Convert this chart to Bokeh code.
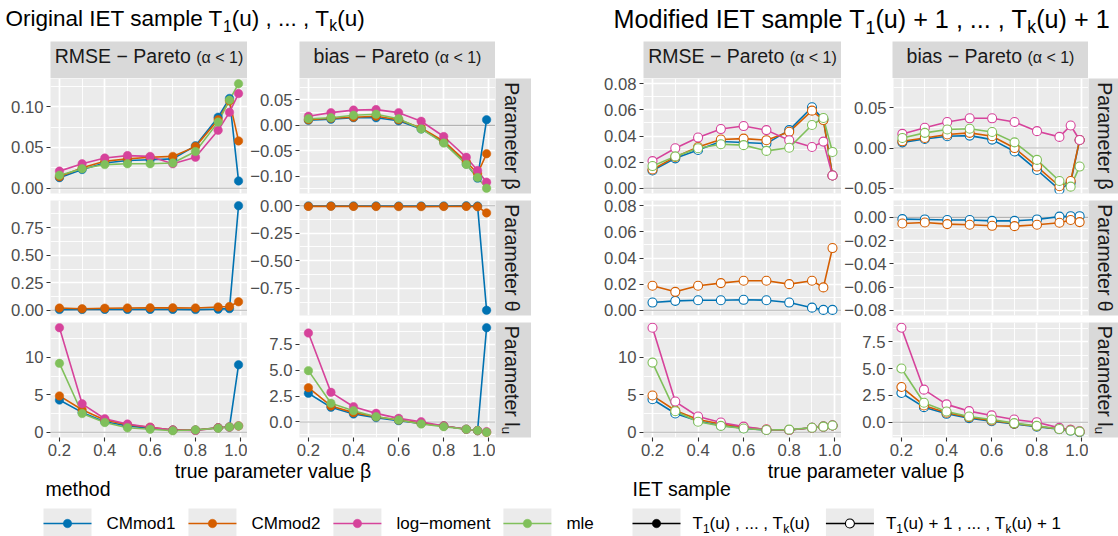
import math
from bokeh.plotting import figure
from bokeh.layouts import row, column
from bokeh.models import (Range1d, FixedTicker, LinearAxis, Grid, Span, Label,
                          CustomJSTickFormatter, Spacer)
from bokeh.embed import file_html
from bokeh.resources import INLINE

# ---------------------------------------------------------------- data
beta = [0.2, 0.3, 0.4, 0.5, 0.6, 0.7, 0.8, 0.9, 0.95, 0.99]
methods = ["CMmod1", "CMmod2", "log\u2212moment", "mle"]
method_colors = ["#0072B2", "#D55E00", "#D6439B", "#80C05B"]

# original IET sample T1(u), ..., Tk(u)
orig_rmse_beta_cm1 = [0.013, 0.023, 0.031, 0.034, 0.035, 0.036, 0.052, 0.087, 0.110, 0.009]
orig_rmse_beta_cm2 = [0.014, 0.025, 0.033, 0.036, 0.038, 0.039, 0.051, 0.084, 0.107, 0.058]
orig_rmse_beta_lm = [0.021, 0.030, 0.037, 0.040, 0.039, 0.030, 0.038, 0.071, 0.093, 0.116]
orig_rmse_beta_mle = [0.016, 0.024, 0.029, 0.030, 0.030, 0.031, 0.045, 0.081, 0.108, 0.128]

orig_bias_beta_cm1 = [0.010, 0.012, 0.015, 0.015, 0.009, -0.007, -0.033, -0.076, -0.104, 0.011]
orig_bias_beta_cm2 = [0.011, 0.014, 0.016, 0.018, 0.011, -0.005, -0.031, -0.072, -0.095, -0.056]
orig_bias_beta_lm = [0.018, 0.025, 0.030, 0.031, 0.025, 0.008, -0.022, -0.063, -0.089, -0.112]
orig_bias_beta_mle = [0.013, 0.015, 0.020, 0.022, 0.013, -0.007, -0.035, -0.077, -0.103, -0.124]

orig_rmse_theta_cm1 = [0.006, 0.007, 0.008, 0.008, 0.008, 0.008, 0.006, 0.010, 0.015, 0.950]
orig_rmse_theta_cm2 = [0.020, 0.014, 0.019, 0.021, 0.022, 0.022, 0.021, 0.030, 0.034, 0.077]

orig_bias_theta_cm1 = [-0.002, -0.002, -0.002, -0.002, -0.003, -0.003, -0.002, -0.001, -0.003, -0.950]
orig_bias_theta_cm2 = [-0.006, -0.005, -0.006, -0.007, -0.008, -0.008, -0.007, -0.006, -0.009, -0.065]

orig_rmse_lu_cm1 = [4.30, 2.65, 1.40, 0.85, 0.55, 0.30, 0.30, 0.60, 0.70, 9.00]
orig_rmse_lu_cm2 = [4.85, 3.00, 1.65, 1.00, 0.67, 0.30, 0.30, 0.60, 0.70, 0.85]
orig_rmse_lu_lm = [13.95, 3.80, 1.80, 1.10, 0.67, 0.30, 0.22, 0.60, 0.70, 0.85]
orig_rmse_lu_mle = [9.20, 2.50, 1.30, 0.60, 0.40, 0.20, 0.30, 0.55, 0.70, 0.85]

orig_bias_lu_cm1 = [2.76, 1.41, 0.77, 0.42, 0.13, -0.13, -0.38, -0.70, -0.83, 9.07]
orig_bias_lu_cm2 = [3.30, 1.54, 0.90, 0.51, 0.19, -0.13, -0.38, -0.70, -0.83, -0.99]
orig_bias_lu_lm = [8.56, 2.85, 1.47, 0.83, 0.35, 0.03, -0.38, -0.70, -0.83, -0.93]
orig_bias_lu_mle = [4.94, 1.80, 1.09, 0.51, 0.19, -0.19, -0.45, -0.70, -0.83, -0.99]

# modified IET sample T1(u) + 1, ..., Tk(u) + 1
mod_rmse_beta_cm1 = [0.0136, 0.0229, 0.0293, 0.0358, 0.0350, 0.0342, 0.0445, 0.0620, 0.0527, 0.0098]
mod_rmse_beta_cm2 = [0.0144, 0.0240, 0.0316, 0.0373, 0.0380, 0.0368, 0.0432, 0.0594, 0.0522, 0.0098]
mod_rmse_beta_lm = [0.0208, 0.0306, 0.0388, 0.0453, 0.0476, 0.0445, 0.0368, 0.0316, 0.0357, 0.0098]
mod_rmse_beta_mle = [0.0170, 0.0244, 0.0306, 0.0337, 0.0330, 0.0286, 0.0310, 0.0484, 0.0538, 0.0278]

mod_bias_beta_cm1 = [0.0071, 0.0113, 0.0147, 0.0155, 0.0105, -0.0042, -0.0273, -0.0517, -0.0430, 0.0100]
mod_bias_beta_cm2 = [0.0084, 0.0126, 0.0168, 0.0189, 0.0147, 0.0000, -0.0230, -0.0475, -0.0410, 0.0100]
mod_bias_beta_lm = [0.0176, 0.0252, 0.0324, 0.0370, 0.0370, 0.0324, 0.0210, 0.0139, 0.0280, 0.0100]
mod_bias_beta_mle = [0.0126, 0.0189, 0.0231, 0.0240, 0.0200, 0.0071, -0.0147, -0.0410, -0.0480, -0.0230]

mod_rmse_theta_cm1 = [0.0059, 0.0072, 0.0077, 0.0077, 0.0080, 0.0077, 0.0059, 0.0020, 0.0003, 0.0003]
mod_rmse_theta_cm2 = [0.0188, 0.0141, 0.0188, 0.0208, 0.0226, 0.0226, 0.0200, 0.0226, 0.0175, 0.0476]

mod_bias_theta_cm1 = [-0.0015, -0.0018, -0.0023, -0.0023, -0.0030, -0.0030, -0.0018, 0.0006, 0.0010, 0.0010]
mod_bias_theta_cm2 = [-0.0053, -0.0044, -0.0058, -0.0064, -0.0073, -0.0076, -0.0064, -0.0047, -0.0023, -0.0041]

mod_rmse_lu_cm1 = [4.40, 2.50, 1.50, 0.90, 0.55, 0.30, 0.30, 0.60, 0.75, 0.90]
mod_rmse_lu_cm2 = [4.90, 2.90, 1.70, 1.10, 0.70, 0.35, 0.30, 0.60, 0.75, 0.90]
mod_rmse_lu_lm = [13.95, 4.10, 2.10, 1.30, 0.75, 0.35, 0.30, 0.60, 0.75, 0.90]
mod_rmse_lu_mle = [9.30, 2.80, 1.40, 0.85, 0.50, 0.30, 0.35, 0.60, 0.75, 0.90]

mod_bias_lu_cm1 = [2.72, 1.40, 0.78, 0.38, 0.09, -0.16, -0.41, -0.66, -0.78, -0.94]
mod_bias_lu_cm2 = [3.28, 1.56, 0.88, 0.47, 0.16, -0.13, -0.38, -0.63, -0.72, -0.88]
mod_bias_lu_lm = [8.80, 3.03, 1.66, 1.03, 0.63, 0.25, 0.00, -0.53, -0.72, -0.84]
mod_bias_lu_mle = [5.00, 1.81, 1.00, 0.53, 0.25, -0.09, -0.34, -0.63, -0.78, -0.88]

column_labels = [("RMSE \u2212 Pareto ", "(\u03b1 < 1)"), ("bias \u2212 Pareto ", "(\u03b1 < 1)")]
row_labels = [[("Parameter \u03b2", 0)], [("Parameter \u03b8", 0)],
              [("Parameter l", 0), ("u", 1)]]
x_title = "true parameter value \u03b2"
sample_labels = [
    [("T", 0), ("1", 1), ("(u) , ... , T", 0), ("k", 1), ("(u)", 0)],
    [("T", 0), ("1", 1), ("(u) + 1 , ... , T", 0), ("k", 1), ("(u) + 1", 0)],
]
titles = [
    [("Original IET sample T", 0), ("1", 1), ("(u) , ... , T", 0), ("k", 1), ("(u)", 0)],
    [("Modified IET sample T", 0), ("1", 1), ("(u) + 1 , ... , T", 0), ("k", 1), ("(u) + 1", 0)],
]


def by_method(*series):
    return dict(zip(methods, series))


orig_grid = [
    [(by_method(orig_rmse_beta_cm1, orig_rmse_beta_cm2, orig_rmse_beta_lm, orig_rmse_beta_mle), None, 0.05, 2),
     (by_method(orig_bias_beta_cm1, orig_bias_beta_cm2, orig_bias_beta_lm, orig_bias_beta_mle), (-0.124, 0.082), 0.05, 2)],
    [(by_method(orig_rmse_theta_cm1, orig_rmse_theta_cm2), None, 0.25, 2),
     (by_method(orig_bias_theta_cm1, orig_bias_theta_cm2), None, 0.25, 2)],
    [(by_method(orig_rmse_lu_cm1, orig_rmse_lu_cm2, orig_rmse_lu_lm, orig_rmse_lu_mle), None, 5, 0),
     (by_method(orig_bias_lu_cm1, orig_bias_lu_cm2, orig_bias_lu_lm, orig_bias_lu_mle), None, 2.5, 1)],
]
mod_grid = [
    [(by_method(mod_rmse_beta_cm1, mod_rmse_beta_cm2, mod_rmse_beta_lm, mod_rmse_beta_mle), (0.0, 0.08), 0.02, 2),
     (by_method(mod_bias_beta_cm1, mod_bias_beta_cm2, mod_bias_beta_lm, mod_bias_beta_mle), (-0.05, 0.08), 0.05, 2)],
    [(by_method(mod_rmse_theta_cm1, mod_rmse_theta_cm2), (0.0, 0.08), 0.02, 2),
     (by_method(mod_bias_theta_cm1, mod_bias_theta_cm2), (-0.08, 0.01), 0.02, 2)],
    [(by_method(mod_rmse_lu_cm1, mod_rmse_lu_cm2, mod_rmse_lu_lm, mod_rmse_lu_mle), None, 5, 0),
     (by_method(mod_bias_lu_cm1, mod_bias_lu_cm2, mod_bias_lu_lm, mod_bias_lu_mle), None, 2.5, 1)],
]

# ---------------------------------------------------------------- style
FONT = "Liberation Sans"
PANEL_BG = "#EBEBEB"
STRIP_BG = "#D9D9D9"
KEY_BG = "#EBEBEB"
TITLE_SIZES = [22.5, 25.2]
STRIP_SIZE = 19.5
STRIP_SMALL = 16
AXIS_TITLE_SIZE = 19.5
TICK_SIZE = 16.7
LEGEND_SIZE = 17
# labels drawn with an alphabetic baseline land about this many em below
# their anchor, so anchors are raised by the same amount
BASELINE_LIFT = 0.37

PAGE_W = 1118
TITLE_H = 41
STRIP_H = 37
FRAME_H = 115
ROW_GAP = 7
XAXIS_H = 26
# every panel row carries a transparent margin band above and below its frame
# and overlaps its neighbours by that band, so edge tick labels have room
BAND = 7
# the footer slides up over the blank lower edge of the tick-label band
FOOT_OVERLAP = 12
FOOT_TOP = TITLE_H + STRIP_H + 3 * FRAME_H + 2 * ROW_GAP + XAXIS_H - FOOT_OVERLAP
FOOT_H = 536 - FOOT_TOP

# (frame width, left border) per panel column, right strip width
group_layout = [
    dict(cols=[(197, 50), (196, 52)], strip_w=36, hollow=False, grid=orig_grid),
    dict(cols=[(198, 112), (196, 51)], strip_w=30, hollow=True, grid=mod_grid),
]

# Arial / Liberation Sans advance widths (1/1000 em)
ADV = {
    " ": 278, "(": 333, ")": 333, ",": 278, ".": 278, "+": 584, "<": 584, "\u2212": 584, "-": 333,
    "0": 556, "1": 556, "2": 556, "3": 556, "4": 556, "5": 556, "6": 556, "7": 556, "8": 556, "9": 556,
    "a": 556, "b": 556, "c": 500, "d": 556, "e": 556, "f": 278, "g": 556, "h": 556, "i": 222,
    "j": 222, "k": 500, "l": 222, "m": 833, "n": 556, "o": 556, "p": 556, "q": 556, "r": 333,
    "s": 500, "t": 278, "u": 556, "v": 500, "w": 722, "x": 500, "y": 500, "z": 500,
    "C": 722, "E": 667, "I": 278, "M": 833, "O": 778, "P": 667, "R": 722, "S": 667, "T": 611,
    "\u03b1": 578, "\u03b2": 575, "\u03b8": 556,
}


def text_width(s, size):
    return sum(ADV.get(c, 556) for c in s) * size / 1000.0


def rich_text(p, along, cross, parts, color, center=False, vertical=False):
    """Place text made of (string, size, shift) pieces; shift lowers a piece."""
    total = sum(text_width(t, s) for t, s, _ in parts)
    pos = along - total / 2 if center else along
    for t, s, shift in parts:
        kw = dict(text=t, text_font=FONT, text_font_size=f"{s}px",
                  text_color=color, text_align="left", text_baseline="alphabetic")
        drop = shift - BASELINE_LIFT * s
        if vertical:
            p.add_layout(Label(x=cross - drop, y=pos, angle=-math.pi / 2, **kw))
        else:
            p.add_layout(Label(x=pos, y=cross + drop, **kw))
        pos += text_width(t, s)


def sub_parts(pieces, size, sub_ratio, sub_shift):
    return [(t, size * sub_ratio if s else size, sub_shift if s else 0) for t, s in pieces]


def plain_fig(width, height, x_range, y_range, left=0, top=0, bottom=0, bg="white",
              clear_border=False):
    p = figure(width=width, height=height, x_range=x_range, y_range=y_range,
               title=None, min_border_left=left, min_border_right=0, min_border_top=top,
               min_border_bottom=bottom, background_fill_color=bg,
               border_fill_color="white", outline_line_color=None,
               x_axis_location=None, y_axis_location=None,
               toolbar_location=None, tools="", output_backend="svg")
    if clear_border:
        p.border_fill_alpha = 0
    # drop the default grids; panels add their own below
    p.center = []
    return p


def ticks_in(lo, hi, step):
    k0 = math.ceil(lo / step - 1e-9)
    k1 = math.floor(hi / step + 1e-9)
    return [round(k * step, 10) for k in range(k0, k1 + 1)]


def make_axis(ticks, digits, standoff):
    return LinearAxis(
        ticker=FixedTicker(ticks=ticks),
        formatter=CustomJSTickFormatter(args=dict(d=digits),
                                        code="return tick.toFixed(d).replace('-', '\u2212');"),
        axis_line_color=None, major_tick_line_color="#333333", major_tick_line_width=1.1,
        major_tick_in=0, major_tick_out=4, minor_tick_line_color=None,
        major_label_text_font=FONT, major_label_text_font_size=f"{TICK_SIZE}px",
        major_label_text_color="#4D4D4D", major_label_standoff=standoff)


def make_panel(series, limits, step, digits, frame_w, left, top, bottom, x_axis, hollow):
    vals = [v for ys in series.values() for v in ys]
    lo, hi = limits if limits else (min(vals + [0.0]), max(vals + [0.0]))
    pad = 0.05 * (hi - lo)
    y0, y1 = lo - pad, hi + pad
    xpad = 0.05 * (max(beta) - min(beta))
    x0, x1 = min(beta) - xpad, max(beta) + xpad
    p = plain_fig(left + frame_w, top + FRAME_H + bottom, Range1d(x0, x1), Range1d(y0, y1),
                  left=left, top=top, bottom=bottom, bg=PANEL_BG, clear_border=True)

    x_major = ticks_in(x0, x1, 0.2)
    x_minor = [t for t in ticks_in(x0, x1, 0.1) if t not in x_major]
    y_major = ticks_in(y0, y1, step)
    y_minor = [t for t in ticks_in(y0, y1, step / 2) if t not in y_major]
    p.add_layout(Grid(dimension=0, ticker=FixedTicker(ticks=x_major, minor_ticks=x_minor),
                      grid_line_color="white", grid_line_width=1.7,
                      minor_grid_line_color="white", minor_grid_line_width=0.9))
    p.add_layout(Grid(dimension=1, ticker=FixedTicker(ticks=y_major, minor_ticks=y_minor),
                      grid_line_color="white", grid_line_width=1.7,
                      minor_grid_line_color="white", minor_grid_line_width=0.9))
    p.add_layout(Span(location=0, dimension="width", line_color="#B3B3B3",
                      line_width=1.1, level="underlay"))

    p.add_layout(make_axis(y_major, digits, 3), "left")
    if x_axis:
        p.add_layout(make_axis(x_major, 1, 2), "below")

    colors = dict(zip(methods, method_colors))
    for m, ys in series.items():
        p.line(beta, ys, line_color=colors[m], line_width=1.6)
    for m, ys in series.items():
        p.scatter(beta, ys, marker="circle", size=9 if hollow else 8.5,
                  fill_color="white" if hollow else colors[m],
                  line_color=colors[m], line_width=1.1 if hollow else 0.5)
    return p


def top_strip(label, frame_w, left):
    p = plain_fig(left + frame_w, STRIP_H, Range1d(0, frame_w), Range1d(STRIP_H, 0),
                  left=left, bg=STRIP_BG)
    parts = [(label[0], STRIP_SIZE, 0), (label[1], STRIP_SMALL, 0)]
    rich_text(p, frame_w / 2, 21.7, parts, "#1A1A1A", center=True)
    return p


def side_strip(label, width, top, bottom):
    p = plain_fig(width, top + FRAME_H + bottom, Range1d(0, width), Range1d(FRAME_H, 0),
                  top=top, bottom=bottom, bg=STRIP_BG, clear_border=True)
    parts = sub_parts(label, STRIP_SIZE, 0.7, 4)
    rich_text(p, FRAME_H / 2, 9.5, parts, "#1A1A1A", center=True, vertical=True)
    return p


# ---------------------------------------------------------------- title
title_fig = plain_fig(PAGE_W, TITLE_H, Range1d(0, PAGE_W), Range1d(TITLE_H, 0))
title_x = [5, 613]
title_base = [26, 27.5]
for tx, ty, ts, pieces in zip(title_x, title_base, TITLE_SIZES, titles):
    rich_text(title_fig, tx, ty, sub_parts(pieces, ts, 0.7, ts * 0.22), "black")

# ---------------------------------------------------------------- strips + panels
header = []
for g in group_layout:
    for (fw, lb), lab in zip(g["cols"], column_labels):
        header.append(top_strip(lab, fw, lb))
    header.append(Spacer(width=g["strip_w"], height=STRIP_H, margin=0))

panel_rows = []
for r in range(3):
    last = r == 2
    top = BAND
    bottom = XAXIS_H if last else BAND
    cells = []
    for g in group_layout:
        for c, (fw, lb) in enumerate(g["cols"]):
            series, limits, step, digits = g["grid"][r][c]
            cells.append(make_panel(series, limits, step, digits, fw, lb, top, bottom,
                                    last, g["hollow"]))
        cells.append(side_strip(row_labels[r], g["strip_w"], top, bottom))
    prow = row(*cells, spacing=0)
    # row 1 reaches under the strip headers; later rows overlap the band
    # below the previous row, which is exactly the gap between the rows
    prow.margin = (-BAND, 0, 0, 0)
    panel_rows.append(prow)

# ---------------------------------------------------------------- axis titles + legends
# footer coordinates: y measured downward from the footer's top edge
foot = plain_fig(PAGE_W, FOOT_H, Range1d(0, PAGE_W), Range1d(FOOT_H, 0))
foot.border_fill_alpha = 0
foot.background_fill_alpha = 0
foot.margin = (-FOOT_OVERLAP, 0, 0, 0)


def fy(page_y):
    return page_y - FOOT_TOP


group_lefts = [0, 531]
for gl, g in zip(group_lefts, group_layout):
    (fw1, lb1), (fw2, lb2) = g["cols"]
    panel_start = gl + lb1
    panel_end = gl + lb1 + fw1 + lb2 + fw2
    rich_text(foot, (panel_start + panel_end) / 2, fy(477.5),
              [(x_title, AXIS_TITLE_SIZE, 0)], "black", center=True)

KEY_W = 48
KEY_TOP, KEY_BOTTOM, KEY_Y = fy(508), fy(538), fy(523)
LABEL_BASE = fy(529)

# method legend
rich_text(foot, 45, fy(496), [("method", AXIS_TITLE_SIZE, 0)], "black")
kx = 43
for m, col in zip(methods, method_colors):
    foot.quad(left=[kx], right=[kx + KEY_W], top=[KEY_TOP], bottom=[KEY_BOTTOM],
              fill_color=KEY_BG, line_color=None)
    foot.segment(x0=[kx], y0=[KEY_Y], x1=[kx + KEY_W], y1=[KEY_Y], line_color=col, line_width=1.6)
    foot.scatter(x=[kx + KEY_W / 2], y=[KEY_Y], marker="circle", size=8.5,
                 fill_color=col, line_color=col, line_width=0.5)
    rich_text(foot, kx + 63, LABEL_BASE, [(m, LEGEND_SIZE, 0)], "black")
    kx += 63 + text_width(m, LEGEND_SIZE) + 13

# sample legend
rich_text(foot, 632, fy(496), [("IET sample", AXIS_TITLE_SIZE, 0)], "black")
kx = 632
for pieces, hollow in zip(sample_labels, [False, True]):
    foot.quad(left=[kx], right=[kx + KEY_W], top=[KEY_TOP], bottom=[KEY_BOTTOM],
              fill_color=KEY_BG, line_color=None)
    foot.segment(x0=[kx], y0=[KEY_Y], x1=[kx + KEY_W], y1=[KEY_Y], line_color="black", line_width=1.6)
    foot.scatter(x=[kx + KEY_W / 2], y=[KEY_Y], marker="circle", size=9 if hollow else 8.5,
                 fill_color="white" if hollow else "black", line_color="black",
                 line_width=1.1 if hollow else 0.5)
    parts = sub_parts(pieces, LEGEND_SIZE, 0.7, 3.5)
    rich_text(foot, kx + 60, LABEL_BASE, parts, "black")
    kx += 60 + sum(text_width(t, s) for t, s, _ in parts) + 16

page = column(title_fig, row(*header, spacing=0), *panel_rows, foot, spacing=0)

open("out.html", "w").write(file_html(page, INLINE))
